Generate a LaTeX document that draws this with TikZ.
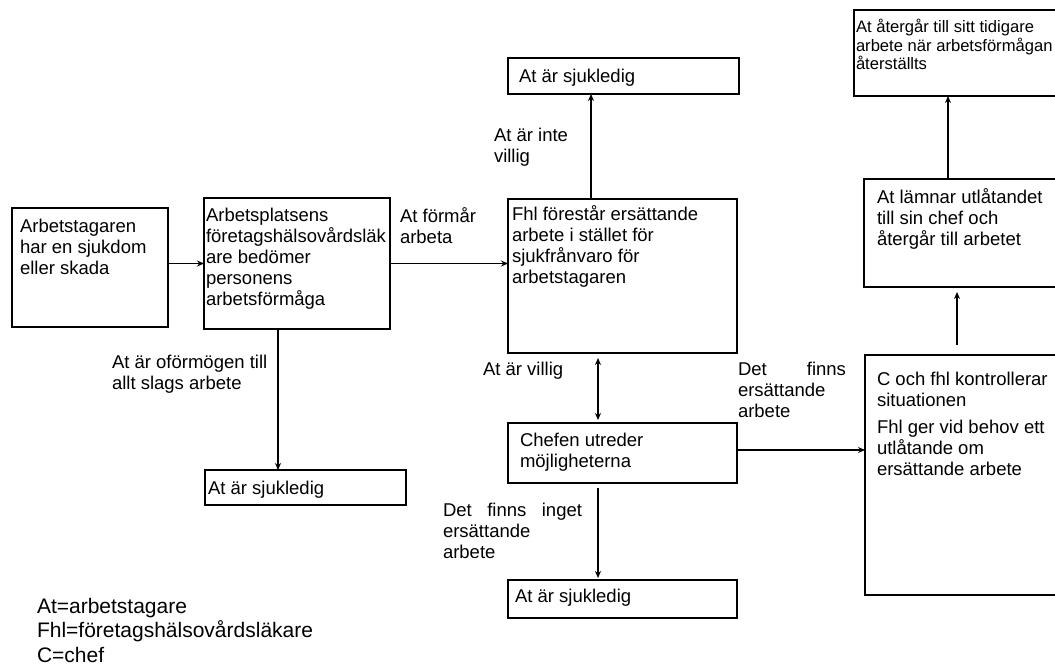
\documentclass[tikz,border=0pt]{standalone}
\usepackage{fontspec}
\setmainfont{Liberation Sans}
\usetikzlibrary{arrows.meta}
\begin{document}
\begin{tikzpicture}[x=1pt,y=-1pt,
  box/.style={draw, line width=1.9pt, inner sep=0, outer sep=0, anchor=north west},
  txt/.style={anchor=base west, inner sep=0, outer sep=0, align=left, font=\fontsize{18.5}{21}\selectfont},
  small/.style={anchor=base west, inner sep=0, outer sep=0, align=left, font=\fontsize{16.6}{18.5}\selectfont},
  big/.style={anchor=base west, inner sep=0, outer sep=0, align=left, font=\fontsize{21}{24.5}\selectfont},
  conn/.style={line width=1.9pt, -{Stealth[length=7pt,width=6pt]}},
  dconn/.style={line width=1.9pt, {Stealth[length=7pt,width=6pt]}-{Stealth[length=7pt,width=6pt]}},
]
\useasboundingbox (0,0) rectangle (1055,666);

% boxes
\node[box, minimum width=156, minimum height=119] (bA) at (12,208) {};
\node[box, minimum width=186, minimum height=131] (bB) at (204,198) {};
\node[box, minimum width=229, minimum height=154] (bC) at (508,199) {};
\node[box, minimum width=231, minimum height=36] (bTop) at (508,58) {};
\node[box, minimum width=229, minimum height=60] (bD) at (508,423) {};
\node[box, minimum width=229, minimum height=38] (bBot) at (508,580) {};
\node[box, minimum width=201, minimum height=35] (bL) at (205,470) {};
\node[box, minimum width=197, minimum height=240] (bE) at (865,355) {};
\node[box, minimum width=198, minimum height=108] (bF) at (864,179) {};
\node[box, minimum width=208, minimum height=86] (bG) at (854,10) {};

% box texts (anchored at the baseline of the last line)
\node[txt] (tA) at (20,274) {Arbetstagaren\\har en sjukdom\\eller skada};
\node[txt] (tB) at (206,305) {Arbetsplatsens\\företagshälsovårdsläk\\are bedömer\\personens\\arbetsförmåga};
\node[txt] (tC) at (512,283) {Fhl förestår ersättande\\arbete i stället för\\sjukfrånvaro för\\arbetstagaren};
\node[txt] (tTop) at (519,83) {At är sjukledig};
\node[txt] (tD) at (520,467) {Chefen utreder\\möjligheterna};
\node[txt] (tBot) at (515,602) {At är sjukledig};
\node[txt] (tL) at (208,494) {At är sjukledig};
\node[txt] (tE) at (877,475) {C och fhl kontrollerar\\situationen\\[6pt]Fhl ger vid behov ett\\utlåtande om\\ersättande arbete};
\node[txt] (tF) at (877,245) {At lämnar utlåtandet\\till sin chef och\\återgår till arbetet};
\node[small] (tG) at (856,70) {At återgår till sitt tidigare\\arbete när arbetsförmågan\\återställts};

% labels
\node[txt] (l1) at (400,243) {At förmår\\arbeta};
\node[txt] (l2) at (494,163) {At är inte\\villig};
\node[txt] (l3) at (112,389) {At är oförmögen till\\allt slags arbete};
\node[txt] (l4) at (483,375) {At är villig};
\node[txt] (l5) at (738,417) {\hbox to 108pt{Det\hfill finns}\\ersättande\\arbete};
\node[txt] (l6) at (443,558) {\hbox to 139pt{Det\hfill finns\hfill inget}\\ersättande\\arbete};

% legend
\node[big] (leg) at (37,662) {At=arbetstagare\\Fhl=företagshälsovårdsläkare\\C=chef};

% connectors
\draw[conn] (bA.east |- bB.west) -- (bB.west);
\draw[conn] (bB.east) -- (bB.east -| bC.west);
\draw[conn] ([xshift=-31.5pt]bC.north) -- ([xshift=-31.5pt]bC.north |- bTop.south);
\draw[dconn, shorten <=5pt, shorten >=3pt] ([xshift=-24.5pt]bC.south) -- ([xshift=-24.5pt]bC.south |- bD.north);
\draw[conn, shorten <=5pt, shorten >=2pt] ([xshift=-24.5pt]bD.south) -- ([xshift=-24.5pt]bD.south |- bBot.north);
\draw[conn] ([xshift=-19pt]bB.south) -- ([xshift=-19pt]bB.south |- bL.north);
\draw[conn] ([yshift=3pt]bD.east) -- ([yshift=3pt]bD.east -| bE.west);
\draw[conn, shorten <=10pt, shorten >=5pt] ([xshift=-6.5pt]bE.north) -- ([xshift=-6.5pt]bE.north |- bF.south);
\draw[conn] ([xshift=-15pt]bF.north) -- ([xshift=-15pt]bF.north |- bG.south);
\end{tikzpicture}
\end{document}
